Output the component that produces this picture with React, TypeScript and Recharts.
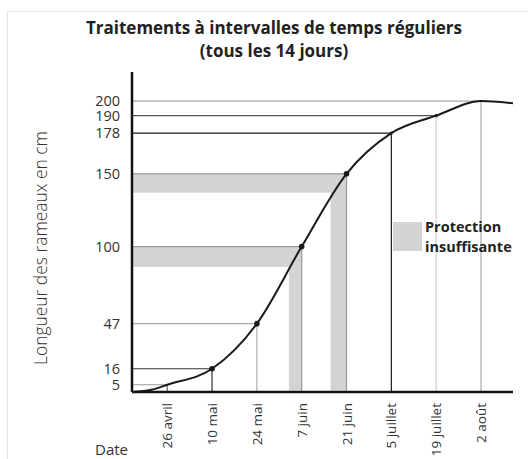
import React from 'react';
import { LineChart, Line, XAxis, YAxis, ReferenceLine, ReferenceArea } from 'recharts';

// ---- data ----
const dateLabels = ['26 avril', '10 mai', '24 mai', '7 juin', '21 juin', '5 juillet', '19 juillet', '2 août'];
const dateDays = [0, 14, 28, 42, 56, 70, 84, 98]; // days after 26 avril
const lengthAtDate = [5, 16, 47, 100, 150, 178, 190, 200];

const curveDays = [-11, -5, 0, 14, 28, 42, 56, 70, 84, 98, 108];
const curveLengths = [0, 1.5, 5, 16, 47, 100, 150, 178, 190, 200, 198.5];

const bigDotDays = [14, 28, 42, 56];
const smallDotDays = [70, 84];

// insufficient protection bands (days / cm)
const bandDateIndex = [3, 4];
const bandStartDays = [38, 51];
const bandBottoms = [86, 137];

const titleLines = ['Traitements à intervalles de temps réguliers', '(tous les 14 jours)'];
const legendLines = ['Protection', 'insuffisante'];

// ---- styles ----
const hColors = ['#9a9a9a', '#333', '#a8a8a8', '#999', '#999', '#1a1a1a', '#555', '#aaa'];
const vColors = ['#666', '#333', '#b0b0b0', '#999', '#999', '#1a1a1a', '#d0d0d0', '#aaa'];
const BAND = '#d4d4d4';
const FONT = '"Open Sans", "Noto Sans", sans-serif';

const data = curveDays.map((d, i) => ({ day: d, len: curveLengths[i] }));
const X_MIN = -11;
const X_MAX = 108;

const XTick = (props: any) => {
  const { x, y, payload } = props;
  const idx = dateDays.indexOf(payload.value);
  return (
    <text
      transform={`translate(${x + 5},${y + 3}) rotate(-90)`}
      textAnchor="end"
      fontSize={13.5}
      fontFamily={FONT}
      fill="#333"
    >
      {idx >= 0 ? dateLabels[idx] : ''}
    </text>
  );
};

const Dot = (props: any) => {
  const { cx, cy, payload } = props;
  if (bigDotDays.includes(payload.day)) return <circle key={payload.day} cx={cx} cy={cy} r={2.8} fill="#1a1a1a" />;
  if (smallDotDays.includes(payload.day)) return <circle key={payload.day} cx={cx} cy={cy} r={1.6} fill="#1a1a1a" />;
  return <g key={payload.day} />;
};

export default function App() {
  return (
    <div style={{ position: 'absolute', left: 0, top: 0, width: 528, height: 459, background: '#fff', fontFamily: FONT }}>
      <div style={{ position: 'absolute', left: 7, top: 11, right: 0, bottom: 0, borderLeft: '1.5px solid #e4e4e4', borderTop: '1.5px solid #e4e4e4' }} />
      <div style={{ position: 'absolute', left: 0, top: 0 }}>
        <LineChart width={528} height={459} data={data} margin={{ top: 72, right: 15, bottom: 0, left: 0 }}>
          <XAxis
            dataKey="day"
            type="number"
            domain={[X_MIN, X_MAX]}
            ticks={dateDays}
            interval={0}
            allowDataOverflow
            axisLine={{ stroke: '#111', strokeWidth: 2.5 }}
            tickLine={false}
            tick={<XTick />}
            height={67}
          />
          <YAxis
            type="number"
            domain={[0, 220]}
            ticks={lengthAtDate}
            interval={0}
            allowDataOverflow
            width={132}
            axisLine={{ stroke: '#111', strokeWidth: 2.5 }}
            tickLine={false}
            tickSize={0}
            tickMargin={12}
            tick={{ fill: '#333', fontSize: 14.5, fontFamily: FONT }}
          />
          {bandDateIndex.map((di, k) => (
            <ReferenceArea key={`hb${k}`} x1={X_MIN} x2={dateDays[di]} y1={bandBottoms[k]} y2={lengthAtDate[di]} fill={BAND} fillOpacity={1} stroke="none" />
          ))}
          {bandDateIndex.map((di, k) => (
            <ReferenceArea key={`vb${k}`} x1={bandStartDays[k]} x2={dateDays[di]} y1={1} y2={lengthAtDate[di]} fill={BAND} fillOpacity={1} stroke="none" />
          ))}
          {dateDays.map((d, i) => (
            <ReferenceLine
              key={`h${i}`}
              segment={[{ x: X_MIN, y: lengthAtDate[i] }, { x: d, y: lengthAtDate[i] }]}
              stroke={hColors[i]}
              strokeWidth={1.2}
            />
          ))}
          {dateDays.map((d, i) => (
            <ReferenceLine
              key={`v${i}`}
              segment={[{ x: d, y: 0 }, { x: d, y: lengthAtDate[i] }]}
              stroke={vColors[i]}
              strokeWidth={1.2}
            />
          ))}
          <Line
            dataKey="len"
            type="monotone"
            stroke="#1a1a1a"
            strokeWidth={2}
            dot={<Dot />}
            activeDot={false}
            isAnimationActive={false}
          />
        </LineChart>
      </div>
      {titleLines.map((t, i) => (
        <div
          key={t}
          style={{ position: 'absolute', left: 10, width: 528, top: 19 + i * 23, textAlign: 'center', fontWeight: 700, fontSize: 17, lineHeight: '18px', color: '#222', whiteSpace: 'nowrap' }}
        >
          {t}
        </div>
      ))}
      <div style={{ position: 'absolute', left: 393, top: 222, width: 29, height: 29, background: BAND }} />
      {legendLines.map((t, i) => (
        <div
          key={t}
          style={{ position: 'absolute', left: 425, top: 219 + i * 19.5, fontWeight: 700, fontSize: 14.5, lineHeight: '16px', color: '#222', whiteSpace: 'nowrap' }}
        >
          {t}
        </div>
      ))}
      <div style={{ position: 'absolute', left: 95, top: 439, fontSize: 15, color: '#333' }}>Date</div>
      <div
        style={{
          position: 'absolute',
          left: 40,
          top: 248,
          transform: 'translate(-50%, -50%) rotate(-90deg)',
          whiteSpace: 'nowrap',
          fontSize: 17.4,
          fontWeight: 300,
          color: '#333',
        }}
      >
        Longueur des rameaux en cm
      </div>
    </div>
  );
}
